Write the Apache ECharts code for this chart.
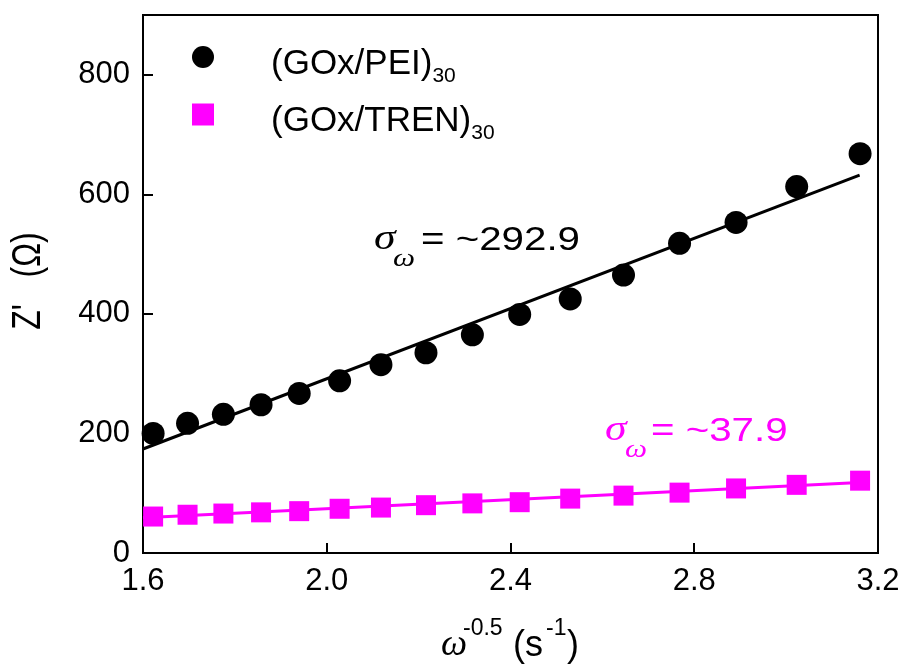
<!DOCTYPE html>
<html>
<head>
<meta charset="utf-8">
<script src="https://cdn.jsdelivr.net/npm/echarts@6/dist/echarts.min.js"></script>
<style>
html,body{margin:0;padding:0;background:#fff;}
#chart{width:906px;height:669px;}
</style>
</head>
<body>
<div id="chart"></div>
<script>
// ---- data ----
const xValues = [1.622, 1.697, 1.775, 1.857, 1.940, 2.028, 2.118, 2.216, 2.317, 2.420, 2.530, 2.646, 2.768, 2.891, 3.023, 3.161];
const peiValues = [200, 217, 232, 248, 267, 288, 315, 335, 365, 399, 425, 465, 518, 553, 613, 668];
const trenValues = [61, 64, 66, 68, 70, 74, 76, 80, 83, 85, 91, 96, 101, 108, 114, 121];
const peiFitX = [1.6, 3.16];
const peiFitY = [174, 632];
const trenFitX = [1.6, 3.16];
const trenFitY = [59, 118];
const seriesNames = ['(GOx/PEI)30', '(GOx/TREN)30'];
const legendBase = ['(GOx/PEI)', '(GOx/TREN)'];
const legendSub = '30';
const xTicks = [1.6, 2.0, 2.4, 2.8, 3.2];
const yTicks = [0, 200, 400, 600, 800];
const peiSlopeText = '= ~292.9';
const trenSlopeText = '= ~37.9';

const SANS = '"Liberation Sans", Arial, sans-serif';
const SERIF = '"Liberation Serif", "Times New Roman", serif';
const MAGENTA = '#ff00ff';

function zip(a, b) { return a.map((v, i) => [v, b[i]]); }

function txt(text, x, baseline, size, color, opts) {
  opts = opts || {};
  const fam = opts.serif ? SERIF : SANS;
  const style = opts.italic ? 'italic ' : '';
  const asc = opts.serif ? 0.3375 : 0.3465;
  return {
    type: 'text',
    x: x,
    y: baseline - asc * size * (opts.scaleY || 1),
    z: 100,
    scaleX: opts.scaleX || 1,
    scaleY: opts.scaleY || 1,
    style: {
      text: text,
      fill: color,
      font: style + size + 'px ' + fam,
      align: 'left',
      verticalAlign: 'middle',
      textAlign: 'left',
      textVerticalAlign: 'middle'
    }
  };
}

const chart = echarts.init(document.getElementById('chart'), null, {renderer: 'canvas'});

const graphics = [
  // black annotation
  txt('σ', 374, 252, 35, '#000', {serif: true, italic: true, scaleX: 1.25}),
  txt('ω', 393, 268, 25, '#000', {serif: true, italic: true, scaleX: 1.25}),
  txt(peiSlopeText, 421, 252, 33, '#000', {scaleX: 1.22}),
  // magenta annotation
  txt('σ', 605, 443, 35, MAGENTA, {serif: true, italic: true, scaleX: 1.25}),
  txt('ω', 625, 459, 25, MAGENTA, {serif: true, italic: true, scaleX: 1.25}),
  txt(trenSlopeText, 651, 443, 33, MAGENTA, {scaleX: 1.22}),
  // x axis title
  txt('ω', 441, 658, 37, '#000', {serif: true, italic: true}),
  txt('-0.5', 463, 637, 23, '#000'),
  txt('(s', 513, 659, 36, '#000'),
  txt('-1', 546, 637, 23, '#000'),
  txt(')', 567, 659, 36, '#000'),
  // y axis title (rotated)
  {
    type: 'text',
    x: 29,
    y: 281,
    rotation: Math.PI / 2,
    scaleY: 1.25,
    z: 100,
    style: {
      text: "Z'   (Ω)",
      fill: '#000',
      font: '32px ' + SANS,
      align: 'center',
      verticalAlign: 'middle',
      textAlign: 'center',
      textVerticalAlign: 'middle'
    }
  }
];

const option = {
  animation: false,
  backgroundColor: '#fff',
  grid: {
    left: 143, right: 28, top: 15, bottom: 116,
    show: true, borderColor: '#000', borderWidth: 2, backgroundColor: 'transparent'
  },
  legend: {
    orient: 'vertical',
    left: 192,
    top: 46,
    padding: 0,
    itemGap: 17,
    itemWidth: 22,
    itemHeight: 22,
    data: seriesNames,
    formatter: function (name) {
      const i = seriesNames.indexOf(name);
      return '{a|' + legendBase[i] + '}{b|' + legendSub + '}';
    },
    textStyle: {
      color: '#000',
      padding: [19, 0, 0, 0],
      rich: {
        a: {fontSize: 35, fontFamily: SANS, lineHeight: 36, verticalAlign: 'top', padding: [0, 0, 0, 52], color: '#000'},
        b: {fontSize: 21, fontFamily: SANS, lineHeight: 40, verticalAlign: 'bottom', color: '#000'}
      }
    }
  },
  xAxis: {
    type: 'value',
    min: xTicks[0],
    max: xTicks[xTicks.length - 1],
    interval: 0.4,
    axisLine: {lineStyle: {color: '#000', width: 2}},
    axisTick: {inside: true, length: 10, lineStyle: {color: '#000', width: 2}},
    axisLabel: {
      color: '#000', fontSize: 31, fontFamily: SANS, margin: 13,
      formatter: v => v.toFixed(1)
    },
    splitLine: {show: false}
  },
  yAxis: {
    type: 'value',
    min: 0,
    max: 900,
    interval: 200,
    axisLine: {show: true, lineStyle: {color: '#000', width: 2}},
    axisTick: {show: true, inside: true, length: 10, lineStyle: {color: '#000', width: 2}},
    axisLabel: {
      color: '#000', fontSize: 31, fontFamily: SANS, margin: 13, showMaxLabel: false,
      formatter: v => (yTicks.indexOf(v) >= 0 ? String(v) : '')
    },
    splitLine: {show: false}
  },
  series: [
    {
      name: 'peiFit', type: 'line', data: zip(peiFitX, peiFitY), symbol: 'none',
      lineStyle: {color: '#000', width: 3}, z: 2, silent: true
    },
    {
      name: 'trenFit', type: 'line', data: zip(trenFitX, trenFitY), symbol: 'none',
      lineStyle: {color: MAGENTA, width: 3}, z: 2, silent: true
    },
    {
      name: seriesNames[0], type: 'scatter', data: zip(xValues, peiValues),
      symbol: 'circle', symbolSize: 23, itemStyle: {color: '#000', opacity: 1}, z: 3
    },
    {
      name: seriesNames[1], type: 'scatter', data: zip(xValues, trenValues),
      symbol: 'rect', symbolSize: 20, itemStyle: {color: MAGENTA, opacity: 1}, z: 3
    }
  ],
  graphic: graphics
};

chart.setOption(option);
</script>
</body>
</html>
